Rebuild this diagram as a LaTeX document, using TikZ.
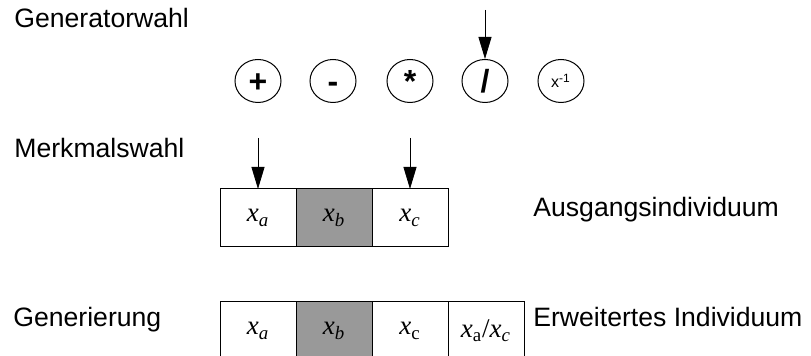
\documentclass[tikz,border=0pt]{standalone}
\usepackage{fontspec}
\setmainfont{Liberation Serif}[ItalicFont=Liberation Serif Italic]
\newfontfamily\labelfont{Liberation Sans}[BoldFont=Liberation Sans Bold]
\usetikzlibrary{arrows.meta}
\usetikzlibrary{positioning}
\usetikzlibrary{shapes.geometric}
\definecolor{cellgray}{RGB}{153,153,153}
\tikzset{
  cell/.style={draw,line width=.5pt,minimum width=38pt,minimum height=29pt,
    inner sep=0pt,outer sep=0pt,font=\fontsize{13.5}{15}\selectfont},
  gen/.style={draw,ellipse,line width=.5pt,minimum width=23pt,minimum height=21.5pt,
    inner sep=0pt,font=\labelfont\fontsize{8}{9}\selectfont},
  genop/.style={gen,text height=12pt,text depth=0pt,
    font=\labelfont\bfseries\fontsize{16}{18}\selectfont},
  lbl/.style={anchor=base west,inner sep=0pt,
    font=\labelfont\fontsize{13.3}{15}\selectfont},
}
\newcommand{\xsub}[1]{\textit{x}\textsubscript{\textit{#1}}}

\begin{document}
\begin{tikzpicture}[x=.5pt,y=-.5pt,>={Triangle[length=11pt,width=6.5pt]}]
  \useasboundingbox (0,0) rectangle (811,356);

  \node (lgen) [lbl] at (14,28) {Generatorwahl};
  \node (lsel) [lbl] at (14,158) {Merkmalswahl};
  \node (lcre) [lbl] at (13,327) {Generierung};
  \node (lin) [lbl] at (533,217) {Ausgangsindividuum};
  \node (lout) [lbl] at (533,327) {Erweitertes Individuum};

  \node (plus) [genop] at (258,81) {+};
  \node (minus) [genop] at (333,81) {-};
  \node (times) [genop] at (410,81) {*};
  \node (divide) [genop] at (485,81) {/};
  \node (inverse) [gen] at (561,81) {x\textsuperscript{-1}};

  \node (ia) [cell] at (258,218) {\xsub{a}};
  \node (ib) [cell,fill=cellgray,right=0pt of ia] {\xsub{b}};
  \node (ic) [cell,right=0pt of ib] {\xsub{c}};

  \node (oa) [cell] at (258,331) {\xsub{a}};
  \node (ob) [cell,fill=cellgray,right=0pt of oa] {\xsub{b}};
  \node (oc) [cell,right=0pt of ob] {\textit{x}\textsubscript{c}};
  \node (od) [cell,right=0pt of oc] {\textit{x}\textsubscript{a}/\xsub{c}};

  \coordinate (gsel) at (485,10);
  \draw[->] (gsel) -- (divide.north);
  \coordinate (asel) at (258,138);
  \draw[->] (asel) -- (ia.north);
  \coordinate (csel) at (ic.north |- asel);
  \draw[->] (csel) -- (ic.north);
\end{tikzpicture}
\end{document}
